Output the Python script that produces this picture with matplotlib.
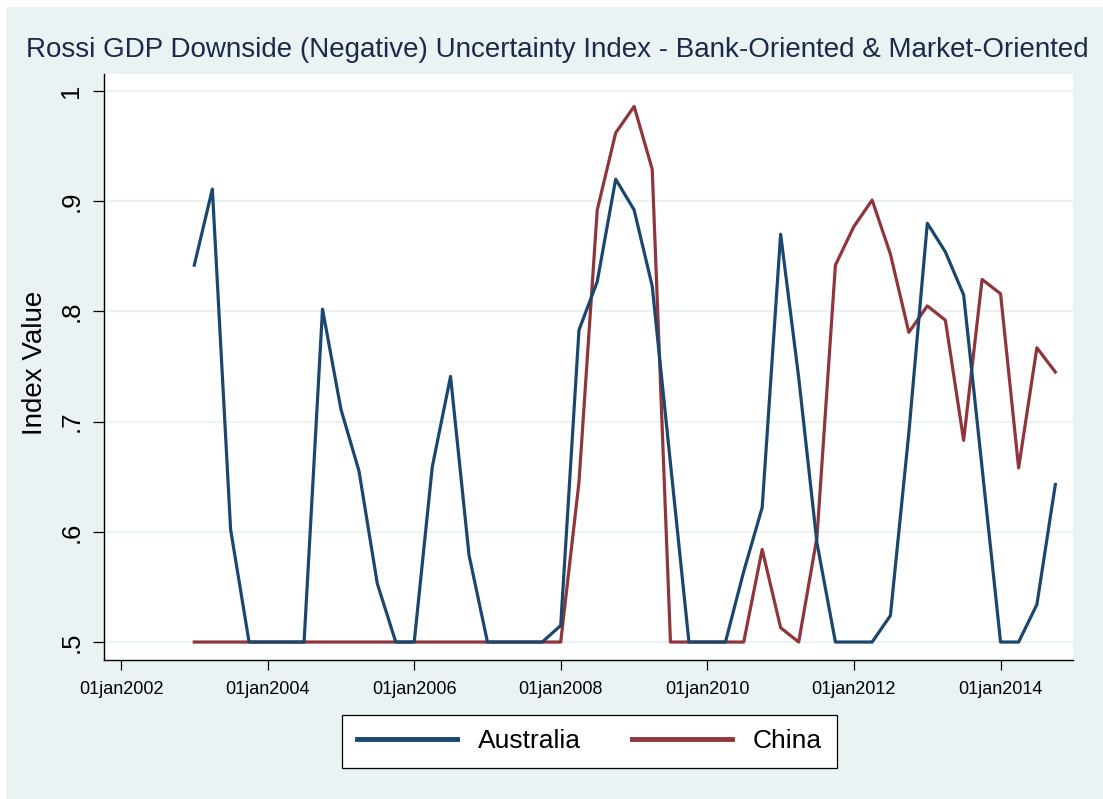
import matplotlib
matplotlib.use("Agg")
import matplotlib.pyplot as plt
import pandas as pd
from matplotlib.patches import Rectangle

# quarterly index values, 2003q1 - 2014q4
quarters = pd.date_range("2003-01-01", periods=48, freq="QS")
australia = [0.842, 0.911, 0.602, 0.500,
             0.500, 0.500, 0.500, 0.802,
             0.711, 0.655, 0.553, 0.500,
             0.500, 0.659, 0.741, 0.579,
             0.500, 0.500, 0.500, 0.500,
             0.515, 0.783, 0.827, 0.920,
             0.892, 0.823, 0.662, 0.500,
             0.500, 0.500, 0.564, 0.622,
             0.870, 0.740, 0.590, 0.500,
             0.500, 0.500, 0.524, 0.690,
             0.880, 0.854, 0.815, 0.658,
             0.500, 0.500, 0.534, 0.643]
china = [0.500, 0.500, 0.500, 0.500,
         0.500, 0.500, 0.500, 0.500,
         0.500, 0.500, 0.500, 0.500,
         0.500, 0.500, 0.500, 0.500,
         0.500, 0.500, 0.500, 0.500,
         0.500, 0.645, 0.892, 0.962,
         0.986, 0.929, 0.500, 0.500,
         0.500, 0.500, 0.500, 0.584,
         0.513, 0.500, 0.595, 0.842,
         0.877, 0.901, 0.852, 0.781,
         0.805, 0.792, 0.683, 0.829,
         0.816, 0.658, 0.767, 0.745]
ytick_vals = [0.5, 0.6, 0.7, 0.8, 0.9, 1.0]
ytick_labels = [".5", ".6", ".7", ".8", ".9", "1"]
xtick_dates = pd.to_datetime(["2002-01-01", "2004-01-01", "2006-01-01", "2008-01-01",
                              "2010-01-01", "2012-01-01", "2014-01-01"])

bg = "#eaf2f3"
navy = "#1a476f"
maroon = "#90353b"
font = ["Liberation Sans", "DejaVu Sans"]

fig = plt.figure(figsize=(11.03, 7.99), dpi=100, facecolor="white")
# graph region background (white strip left/top)
fig.patches.append(Rectangle((6 / 1103, 0), 1, 1 - 7 / 799, transform=fig.transFigure,
                             facecolor=bg, edgecolor="none", zorder=-1))
ax = fig.add_axes([104 / 1103, 1 - 660 / 799, 969 / 1103, 586 / 799])
ax.set_facecolor("white")

ax.plot(quarters, australia, color=navy, linewidth=2.3, label="Australia", zorder=3)
ax.plot(quarters, china, color=maroon, linewidth=2.3, label="China", zorder=2)

ax.set_xlim(pd.Timestamp("2001-10-08"), pd.Timestamp("2014-12-28"))
ax.set_ylim(0.4837, 1.0154)

ax.set_yticks(ytick_vals)
ax.set_yticklabels(ytick_labels, rotation=90, va="center", family=font, fontsize=18.5)
ax.yaxis.grid(True, color=bg, linewidth=1.6)
ax.set_axisbelow(True)

ax.set_xticks(xtick_dates)
ax.set_xticklabels([d.strftime("%d%b%Y").lower() for d in xtick_dates],
                   family=font, fontsize=13)
ax.tick_params(axis="y", length=8, width=0.9, pad=7, colors="black")
ax.tick_params(axis="x", length=7, width=0.9, pad=8, colors="black")

for side in ["top", "right"]:
    ax.spines[side].set_visible(False)
for side in ["left", "bottom"]:
    ax.spines[side].set_linewidth(1.0)

fig.text(0.505, 1 - 50 / 799,
         "Rossi GDP Downside (Negative) Uncertainty Index - Bank-Oriented & Market-Oriented",
         ha="center", va="center", fontsize=20, family=font, color="#1c2a4a")
fig.text(35 / 1103, 1 - 363 / 799, "Index Value", rotation=90, ha="center", va="center",
         fontsize=20, family=font, color="black")

leg = ax.legend(loc="center", bbox_to_anchor=(589.5 / 1103, 1 - 741.5 / 799),
                bbox_transform=fig.transFigure, ncol=2, frameon=True, fancybox=False,
                framealpha=1, prop={"family": font, "size": 19}, handlelength=3.8,
                handletextpad=0.8, columnspacing=1.9, borderpad=0.55)
leg.get_frame().set_edgecolor("black")
leg.get_frame().set_facecolor("white")
leg.get_frame().set_linewidth(0.9)
for line in leg.get_lines():
    line.set_linewidth(3.5)

fig.savefig("out.png", dpi=100, facecolor=fig.get_facecolor())
